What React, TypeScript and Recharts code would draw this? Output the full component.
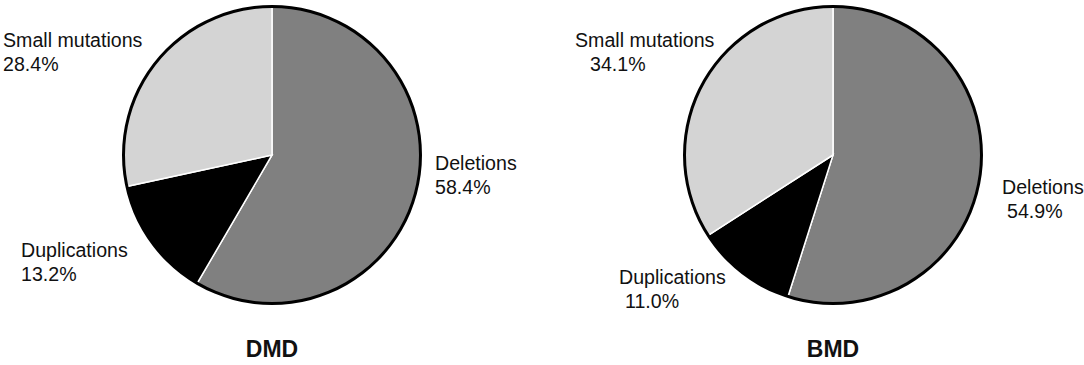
import React from "react";
import { PieChart, Pie, Cell } from "recharts";

// Mutation type shares (%), clockwise from 12 o'clock
const categories = ["Deletions", "Duplications", "Small mutations"];
const dmdValues = [58.4, 13.2, 28.4];
const bmdValues = [54.9, 11.0, 34.1];
const chartTitles = ["DMD", "BMD"];

const sliceColors = ["#808080", "#000000", "#d4d4d4"];
const FONT = "'Liberation Sans', Arial, Helvetica, sans-serif";

const WIDTH = 1084;
const HEIGHT = 365;
const CY = 155;
const RADIUS = 150;
const CENTERS = [272, 833];

// hand placed label blocks, relative to pie centre (like the original figure)
// dx: left edge of first line, dy: first baseline, indent: shift of the % line
const labelLayout: Record<string, { dx: number; dy: number; indent: number }>[] = [
  {
    Deletions: { dx: 163, dy: 15, indent: 0 },
    Duplications: { dx: -251, dy: 102, indent: 0 },
    "Small mutations": { dx: -269, dy: -108, indent: 0 },
  },
  {
    Deletions: { dx: 169, dy: 39, indent: 5 },
    Duplications: { dx: -214, dy: 129, indent: 6 },
    "Small mutations": { dx: -258, dy: -108, indent: 15 },
  },
];

const toRows = (values: number[]) =>
  categories.map((name, i) => ({ name, value: values[i] }));

const makeLabel = (chartIdx: number) => (props: any) => {
  const { cx, cy, name, value } = props;
  const pos = labelLayout[chartIdx][name];
  if (!pos) return null;
  const x = cx + pos.dx;
  const y = cy + pos.dy;
  return (
    <text x={x} y={y} fill="#111" fontSize={19.6} fontFamily={FONT}>
      <tspan x={x} y={y}>{name}</tspan>
      <tspan x={x + pos.indent} y={y + 24}>{`${value.toFixed(1)}%`}</tspan>
    </text>
  );
};

const ring = [{ name: "outline", value: 1 }];

export default function App() {
  const sets = [dmdValues, bmdValues];
  return (
    <div style={{ position: "absolute", left: 0, top: 0, width: WIDTH, height: HEIGHT, background: "#fff" }}>
      <PieChart width={WIDTH} height={HEIGHT} margin={{ top: 0, right: 0, bottom: 0, left: 0 }}>
        {sets.map((vals, k) => (
          <Pie
            key={`data-${k}`}
            data={toRows(vals)}
            dataKey="value"
            nameKey="name"
            cx={CENTERS[k]}
            cy={CY}
            outerRadius={RADIUS - 1}
            startAngle={90}
            endAngle={-270}
            stroke="#fff"
            strokeWidth={1.5}
            label={makeLabel(k)}
            labelLine={false}
            isAnimationActive={false}
          >
            {vals.map((_, i) => (
              <Cell key={i} fill={sliceColors[i]} />
            ))}
          </Pie>
        ))}
        {sets.map((_, k) => (
          <Pie
            key={`ring-${k}`}
            data={ring}
            dataKey="value"
            cx={CENTERS[k]}
            cy={CY}
            innerRadius={RADIUS - 3}
            outerRadius={RADIUS}
            startAngle={90}
            endAngle={-270}
            fill="#000"
            stroke="none"
            label={false}
            labelLine={false}
            isAnimationActive={false}
          />
        ))}
      </PieChart>
      {chartTitles.map((t, k) => (
        <div
          key={t}
          style={{
            position: "absolute",
            left: CENTERS[k] - 60,
            width: 120,
            top: 336,
            textAlign: "center",
            fontFamily: FONT,
            fontWeight: 700,
            fontSize: 23,
            lineHeight: "26px",
            color: "#111",
          }}
        >
          {t}
        </div>
      ))}
    </div>
  );
}
